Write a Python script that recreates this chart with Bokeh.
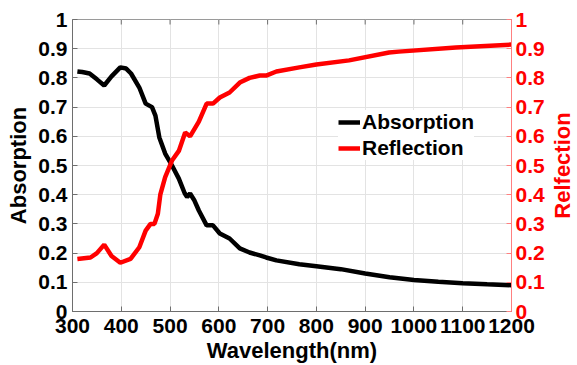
import math
from bokeh.plotting import figure
from bokeh.layouts import row
from bokeh.models import LinearAxis, Range1d, FixedTicker, Legend, LegendItem
from bokeh.core.properties import value
from bokeh.embed import file_html
from bokeh.resources import INLINE

# ---- data ----
wl_abs = [310, 320, 335, 350, 365, 380, 398, 410, 420, 437, 450, 463, 470, 478, 490,
          504, 518, 530, 535, 541, 550, 559, 575, 588, 602, 622, 643, 663, 684, 697,
          718, 765, 800, 850, 900, 950, 1000, 1050, 1100, 1150, 1200]
absorption = [0.822, 0.820, 0.815, 0.795, 0.774, 0.805, 0.836, 0.832, 0.815, 0.767, 0.712,
              0.700, 0.671, 0.596, 0.541, 0.500, 0.455, 0.405, 0.392, 0.404, 0.380, 0.346,
              0.295, 0.295, 0.267, 0.250, 0.216, 0.202, 0.192, 0.185, 0.175, 0.162, 0.155,
              0.145, 0.130, 0.117, 0.108, 0.102, 0.097, 0.093, 0.090]

wl_ref = [310, 337, 350, 365, 380, 398, 419, 437, 450, 460, 468, 475, 480, 490, 504, 518,
          531, 541, 559, 575, 588, 602, 622, 643, 663, 684, 697, 718, 765, 800, 867, 949,
          969, 1086, 1200]
reflection = [0.180, 0.185, 0.200, 0.229, 0.190, 0.167, 0.180, 0.220, 0.277, 0.300, 0.300,
              0.335, 0.400, 0.460, 0.517, 0.550, 0.613, 0.600, 0.650, 0.712, 0.712, 0.733,
              0.750, 0.784, 0.800, 0.808, 0.808, 0.822, 0.836, 0.846, 0.860, 0.887, 0.890,
              0.904, 0.914]

x_ticks = [300, 400, 500, 600, 700, 800, 900, 1000, 1100, 1200]
y_ticks = [0, 0.1, 0.2, 0.3, 0.4, 0.5, 0.6, 0.7, 0.8, 0.9, 1]
y_tick_labels = ["0", "0.1", "0.2", "0.3", "0.4", "0.5", "0.6", "0.7", "0.8", "0.9", "1"]

x_title = "Wavelength(nm)"
left_title = "Absorption"
right_title = "Relfection"
series_names = ["Absorption", "Reflection"]

FONT = "Liberation Sans"
TICK_SIZE = "21px"
LABEL_SIZE = "22px"
X_MIN, X_MAX = 300, 1200
Y_MIN, Y_MAX = 0, 1
H = 365
B_TOP, B_BOTTOM = 19, 54

p = figure(width=547, height=H, output_backend="svg", toolbar_location=None,
           x_range=Range1d(X_MIN, X_MAX), y_range=Range1d(Y_MIN, Y_MAX),
           min_border_left=72, min_border_right=34, min_border_top=B_TOP,
           min_border_bottom=B_BOTTOM)
p.extra_y_ranges = {"right": Range1d(Y_MIN, Y_MAX)}
p.outline_line_color = "#9a9a9a"
p.background_fill_color = "white"
p.border_fill_color = "white"

overrides = {t: l for t, l in zip(y_ticks, y_tick_labels)}

def style_axis(ax, color, line_color):
    ax.major_tick_in = 5
    ax.major_tick_out = 0
    ax.minor_tick_in = 0
    ax.minor_tick_out = 0
    ax.axis_line_color = line_color
    ax.major_tick_line_color = line_color
    ax.major_label_text_font = FONT
    ax.major_label_text_font_style = "bold"
    ax.major_label_text_font_size = TICK_SIZE
    ax.major_label_text_color = color
    ax.axis_label_text_font = FONT
    ax.axis_label_text_font_style = "bold"
    ax.axis_label_text_font_size = LABEL_SIZE
    ax.axis_label_text_color = color

xa = p.xaxis[0]
xa.ticker = FixedTicker(ticks=x_ticks)
xa.axis_label = x_title
style_axis(xa, "black", "#6e6e6e")
xa.major_label_standoff = 7
xa.axis_label_standoff = 2

ya = p.yaxis[0]
ya.ticker = FixedTicker(ticks=y_ticks)
ya.major_label_overrides = overrides
ya.axis_label = left_title
style_axis(ya, "black", "#6e6e6e")
ya.major_label_standoff = 5
ya.axis_label_standoff = 4

ra = LinearAxis(y_range_name="right", ticker=FixedTicker(ticks=y_ticks),
                major_label_overrides=overrides)
style_axis(ra, "#ff0000", "#ff8080")
ra.major_label_standoff = 4
p.add_layout(ra, "right")

p.xgrid.ticker = FixedTicker(ticks=x_ticks)
p.ygrid.ticker = FixedTicker(ticks=y_ticks)
p.grid.grid_line_color = "#e3e3e3"
p.grid.grid_line_width = 1

# inward tick marks on the top edge
tick_len = (Y_MAX - Y_MIN) * 5 / 292
p.segment(x0=x_ticks, y0=[Y_MAX] * len(x_ticks), x1=x_ticks,
          y1=[Y_MAX - tick_len] * len(x_ticks), line_color="#6e6e6e", line_width=1)

r1 = p.line(wl_abs, absorption, line_color="black", line_width=4.5)
r2 = p.line(wl_ref, reflection, line_color="#ff0000", line_width=4.5)

legend = Legend(items=[LegendItem(label=series_names[0], renderers=[r1]),
                       LegendItem(label=series_names[1], renderers=[r2])],
                location=(266, 151), label_text_font=FONT, label_text_font_style="bold",
                label_text_font_size="21px", label_text_color="black",
                glyph_width=22, glyph_height=20,
                label_height=22, label_standoff=2, spacing=2, padding=3, margin=0,
                border_line_color=None, background_fill_color="white",
                background_fill_alpha=1.0)
p.add_layout(legend, "center")

# strip holding the right-hand axis title, reading bottom-to-top
t = figure(width=30, height=H, output_backend="svg", toolbar_location=None,
           x_range=Range1d(-1, 1), y_range=Range1d(Y_MIN, Y_MAX),
           min_border_left=0, min_border_right=0, min_border_top=B_TOP,
           min_border_bottom=B_BOTTOM)
t.axis.visible = False
t.grid.visible = False
t.outline_line_color = None
t.background_fill_color = "white"
t.border_fill_color = "white"
t.text(x=[0], y=[(Y_MIN + Y_MAX) / 2], text=[right_title], angle=math.pi / 2,
       text_align="center", text_baseline="middle", text_font=value(FONT),
       text_font_style="bold", text_font_size=LABEL_SIZE, text_color="#ff0000")

layout = row(p, t)
open("out.html", "w").write(file_html(layout, INLINE))
